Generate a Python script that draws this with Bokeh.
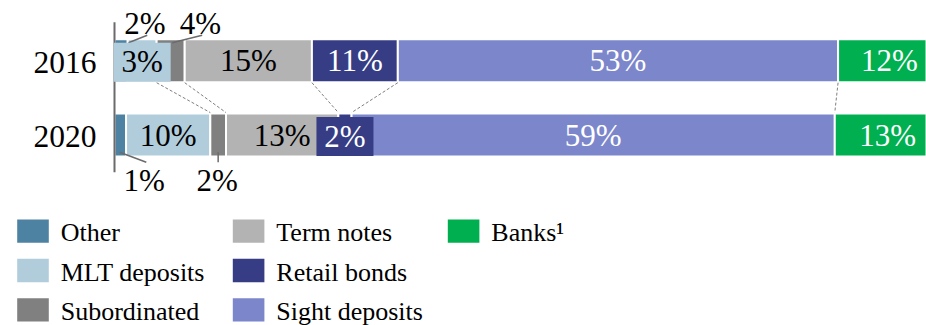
from bokeh.plotting import figure
from bokeh.models import Range1d
from bokeh.core.properties import value
from bokeh.embed import file_html
from bokeh.resources import INLINE

# ---------------- data ----------------
years = ["2016", "2020"]
categories = ["Other", "MLT deposits", "Subordinated", "Term notes",
              "Retail bonds", "Sight deposits", "Banks\u00b9"]
colors = ["#4E82A2", "#B1CDDC", "#808080", "#B3B3B3",
          "#363D85", "#7B86CB", "#00B050"]
shares_2016 = [1.6, 3.5, 3.4, 15.4, 10.4, 53.3, 12.4]
shares_2020 = [1.4, 10.2, 1.9, 13.6, 1.6, 58.5, 12.8]
labels_2016 = ["2%", "3%", "4%", "15%", "11%", "53%", "12%"]
labels_2020 = ["1%", "10%", "2%", "13%", "2%", "59%", "13%"]
# how each label is placed: in = inside, box = boxed, up/down = with leader
place_2016 = ["up", "box", "up", "in", "in", "in", "in"]
place_2020 = ["down", "in", "down", "in", "box", "in", "in"]
dark_fill = [False, False, False, False, True, True, True]

# ---------------- layout (pixels) ----------------
W, H = 926, 325
S = 8.26        # px per percentage point
X0 = 114.0      # px of 0 %
P = 74.4        # px between the two bar rows
Y16 = 60.2      # px of 2016 bar centre
BAR_PX = 43
FONT = "Liberation Serif"


def px2x(px):
    return (px - X0) / S


def px2y(py):
    return 1 + (Y16 - py) / P


row_y = {"2016": 1.0, "2020": 0.0}

p = figure(width=W, height=H, output_backend="svg", toolbar_location=None,
           x_range=Range1d(px2x(0), px2x(W)), y_range=Range1d(px2y(H), px2y(0)),
           min_border=0, outline_line_color=None)
p.axis.visible = False
p.grid.visible = False
p.background_fill_color = "white"
p.border_fill_color = "white"

all_shares = {"2016": shares_2016, "2020": shares_2020}
all_labels = {"2016": labels_2016, "2020": labels_2020}
all_place = {"2016": place_2016, "2020": place_2020}

bounds = {}
for yr in years:
    vals = all_shares[yr]
    lefts, rights = [], []
    c = 0.0
    for v in vals:
        lefts.append(c)
        c += v
        rights.append(c)
    bounds[yr] = (lefts, rights)
    p.hbar(y=[row_y[yr]] * len(vals), left=lefts, right=rights,
           height=BAR_PX / P, fill_color=colors, line_color="white", line_width=2)

# dashed connectors between matching boundaries
x0s, y0s, x1s, y1s = [], [], [], []
for i in [1, 2, 3, 4, 5]:
    x0s.append(bounds["2016"][1][i])
    y0s.append(row_y["2016"] - (20.5 + 1.5) / P)
    x1s.append(bounds["2020"][1][i])
    y1s.append(row_y["2020"] + (20.0 + 2.5) / P)
p.segment(x0=x0s, y0=y0s, x1=x1s, y1=y1s, line_color="#7f7f7f",
          line_width=1, line_dash="3 2")

# vertical axis line
p.segment(x0=[0], y0=[px2y(21.7)], x1=[0], y1=[px2y(171.7)],
          line_color="#6b6b6b", line_width=2)

# year labels
p.text(x=[px2x(96)] * 2, y=[row_y[yr] - 1.8 / P for yr in years], text=years,
       text_font=value(FONT), text_font_size=value("31.5px"),
       text_align="right", text_baseline="middle", text_color="black")

# leader offsets in px relative to segment centre: (x_start, x_end, x_text)
leader_up = {0: (7.4, 26.1, 23.9), 2: (1.5, 31.5, 29.8)}
leader_down = {0: (-0.6, 26.0, 23.8), 2: (0.0, 0.0, -0.9)}

for yr in years:
    lefts, rights = bounds[yr]
    yc = row_y[yr]
    in_x, in_y, in_t, in_c = [], [], [], []
    for i, (l, r) in enumerate(zip(lefts, rights)):
        cx = (l + r) / 2
        lab = all_labels[yr][i]
        mode = all_place[yr][i]
        tcol = "white" if dark_fill[i] else "black"
        if mode == "in":
            in_x.append(cx); in_y.append(yc); in_t.append(lab); in_c.append(tcol)
        elif mode == "box":
            bw = 57 / S
            p.rect(x=[cx], y=[yc - 1.5 / P], width=bw, height=39 / P,
                   fill_color=colors[i], line_color=None)
            in_x.append(cx); in_y.append(yc - 1.0 / P); in_t.append(lab); in_c.append(tcol)
        elif mode == "up":
            xs, xe, xt = leader_up[i]
            top = yc + 20.5 / P
            p.segment(x0=[cx + xs / S], y0=[top - 2.5 / P], x1=[cx + xe / S],
                      y1=[top + 5 / P], line_color="#6b6b6b", line_width=1.5)
            p.text(x=[cx + xt / S], y=[top + 16.5 / P], text=[lab],
                   text_font=value(FONT), text_font_size=value("31px"),
                   text_align="center", text_baseline="middle", text_color="black")
        elif mode == "down":
            xs, xe, xt = leader_down[i]
            bot = yc - 19.7 / P
            p.segment(x0=[cx + xs / S], y0=[bot + 2.6 / P], x1=[cx + xe / S],
                      y1=[bot - 7.4 / P], line_color="#6b6b6b", line_width=1.5)
            p.text(x=[cx + xt / S], y=[bot - 25.7 / P], text=[lab],
                   text_font=value(FONT), text_font_size=value("31px"),
                   text_align="center", text_baseline="middle", text_color="black")
    p.text(x=in_x, y=in_y, text=in_t, text_color=in_c,
           text_font=value(FONT), text_font_size=value("31px"),
           text_align="center", text_baseline="middle")

# legend (3 rows, column-major)
col_left = [16.7, 232.3, 447.3]
row_mid = [230.6, 270.0, 309.3]
lx, ly, tx, ty = [], [], [], []
for i, cat in enumerate(categories):
    c, r = i // 3, i % 3
    lx.append(px2x(col_left[c] + 15.8))
    ly.append(px2y(row_mid[r]))
    tx.append(px2x(col_left[c] + 43.5))
    ty.append(px2y(row_mid[r] + 1.5))
p.rect(x=lx, y=ly, width=31.6, height=23.3, width_units="screen",
       height_units="screen", fill_color=colors, line_color=None)
p.text(x=tx, y=ty, text=categories, text_font=value(FONT),
       text_font_size=value("26px"), text_align="left", text_baseline="middle",
       text_color="black")

open("out.html", "w").write(file_html(p, INLINE))
